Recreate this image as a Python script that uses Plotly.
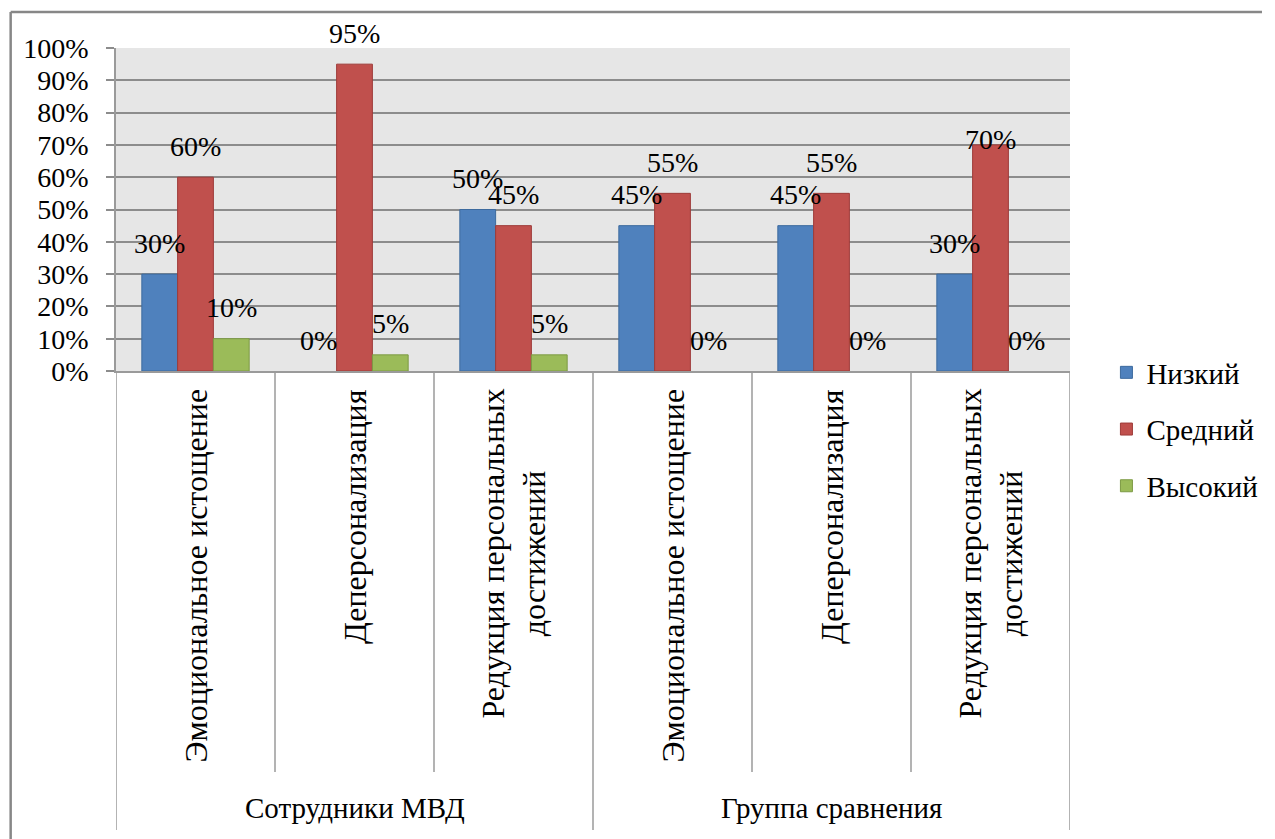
import plotly.graph_objects as go

# ---- data -------------------------------------------------------------
groups = ["Сотрудники МВД", "Группа сравнения"]
scales = ["Эмоциональное истощение", "Деперсонализация", "Редукция персональных<br>достижений"]
series_names = ["Низкий", "Средний", "Высокий"]
low_values = [30, 0, 50, 45, 45, 30]
mid_values = [60, 95, 45, 55, 55, 70]
high_values = [10, 5, 5, 0, 0, 0]
y_tick_values = [0, 10, 20, 30, 40, 50, 60, 70, 80, 90, 100]

# ---- styling ----------------------------------------------------------
FONT = "Times New Roman"
FILLS = ["#4f81bd", "#c0504d", "#9bbb59"]
EDGES = ["#3d6a9e", "#9e3b39", "#7d9a44"]
GRID = "#8c8c8c"
FRAME = "#9a9a9a"

W, H = 1275, 839
PL, PR, PT, PB = 116, 1085, 48, 371   # plot area in pixels
BARGAP = 0.325
LABEL_LIFT = 31                        # data label centre above bar top (px)
LABEL_NUDGE = {(5, 1): -26}            # (category, series) -> extra px


def px_x(px):
    return (px - PL) / (PR - PL)


def px_y(py):
    return (PB - py) / (PB - PT)


categories = [(g, s) for g in groups for s in scales]
positions = list(range(len(categories)))
series_values = [low_values, mid_values, high_values]

fig = go.Figure()
for k, (name, vals) in enumerate(zip(series_names, series_values)):
    fig.add_trace(go.Bar(
        x=positions, y=vals, name=name, legendgroup=name,
        marker=dict(color=FILLS[k],
                    line=dict(color=EDGES[k],
                              width=[1 if v > 0 else 0 for v in vals])),
    ))

cat_px = (PR - PL) / len(categories)
bar_px = cat_px * (1 - BARGAP) / len(series_names)

annotations = []
# value labels above each bar
for k, vals in enumerate(series_values):
    for i, v in enumerate(vals):
        annotations.append(dict(
            x=positions[i], y=v, text=f"{v}%",
            showarrow=False, xanchor="center", yanchor="middle",
            xshift=(k - 1) * bar_px,
            yshift=LABEL_LIFT + LABEL_NUDGE.get((i, k), 0),
            font=dict(family=FONT, size=28, color="black"),
        ))

# rotated scale names under each category
for i, (g, s) in enumerate(categories):
    annotations.append(dict(
        x=positions[i], y=px_y(387), yref="paper", text=s,
        textangle=-90, showarrow=False, xanchor="center", yanchor="top",
        font=dict(family=FONT, size=32, color="black"),
    ))

# group names on the outer level
n = len(scales)
for gi, g in enumerate(groups):
    centre = sum(positions[gi * n:(gi + 1) * n]) / n
    annotations.append(dict(
        x=centre, y=px_y(808), yref="paper", text=g,
        showarrow=False, xanchor="center", yanchor="middle",
        font=dict(family=FONT, size=29, color="black"),
    ))

shapes = []
# separators of the two-level category table
for b in range(len(categories) + 1):
    xb = b - 0.5
    outer = b % n == 0
    shapes.append(dict(
        type="line", xref="x", yref="paper", x0=xb, x1=xb,
        y0=px_y(PB), y1=px_y(830 if outer else 772),
        line=dict(color=FRAME, width=1.5),
    ))
# chart frame (top and left edges)
shapes.append(dict(type="line", xref="paper", yref="paper",
                   x0=px_x(9), x1=px_x(W + 5), y0=px_y(12), y1=px_y(12),
                   line=dict(color="#878787", width=2.5)))
shapes.append(dict(type="line", xref="paper", yref="paper",
                   x0=px_x(9), x1=px_x(9), y0=px_y(12), y1=px_y(H + 5),
                   line=dict(color="#878787", width=2.5)))

fig.update_layout(
    width=W, height=H,
    margin=dict(l=PL, r=W - PR, t=PT, b=H - PB),
    font=dict(family=FONT, size=28, color="black"),
    paper_bgcolor="white", plot_bgcolor="#e6e6e6",
    barmode="group", bargap=BARGAP, bargroupgap=0,
    showlegend=True,
    legend=dict(
        x=px_x(1122), y=px_y(347), xanchor="left", yanchor="top",
        font=dict(family=FONT, size=29, color="black"),
        tracegroupgap=16, traceorder="grouped",
    ),
    xaxis=dict(
        range=[-0.5, len(categories) - 0.5], showticklabels=False,
        showgrid=False, zeroline=False, showline=True,
        linecolor=FRAME, linewidth=1.5, ticks="",
    ),
    yaxis=dict(
        range=[0, 100], tickvals=y_tick_values,
        ticktext=[f"{t}%" for t in y_tick_values],
        showgrid=True, gridcolor=GRID, gridwidth=1.5,
        zeroline=False, showline=True, linecolor=FRAME, linewidth=1.5,
        ticks="outside", ticklen=8, tickwidth=1.5, tickcolor=GRID,
        ticklabelstandoff=12,
        tickfont=dict(family=FONT, size=28, color="black"),
    ),
    annotations=annotations, shapes=shapes,
)

fig.write_html("out.html")
